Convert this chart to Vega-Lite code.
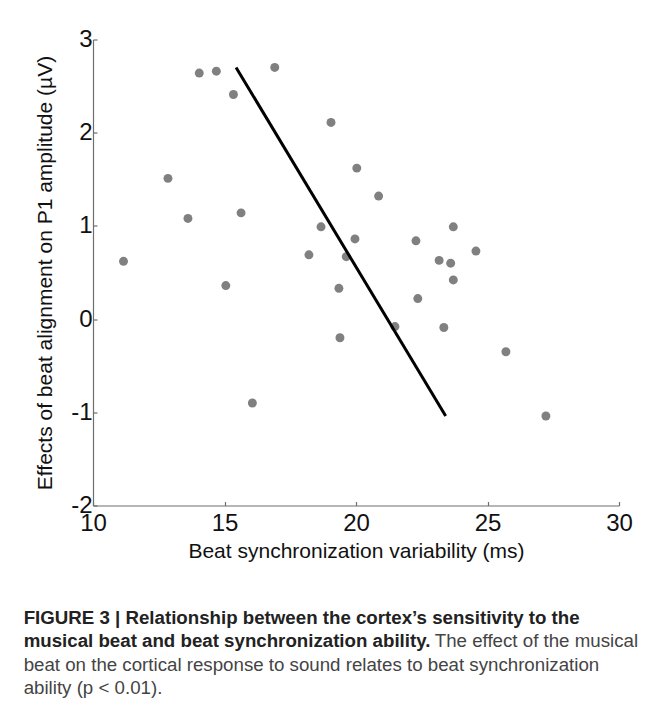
{
  "$schema": "https://vega.github.io/schema/vega-lite/v6.json",
  "width": 526,
  "height": 466,
  "autosize": {"type": "none"},
  "padding": {"left": 93, "top": 39.5, "right": 36, "bottom": 208.5},
  "background": "white",
  "config": {
    "view": {"stroke": null},
    "axis": {
      "grid": false,
      "domainColor": "#6e6e6e",
      "domainWidth": 1.2,
      "tickColor": "#6e6e6e",
      "tickWidth": 1.2,
      "tickSize": -4,
      "labelFont": "Liberation Sans",
      "labelFontSize": 24,
      "labelColor": "#111111",
      "titleFont": "Liberation Sans",
      "titleFontSize": 21,
      "titleFontWeight": "normal",
      "titleColor": "#111111"
    }
  },
  "datasets": {
    "points": [
      {"variability": 11.16, "effect": 0.62},
      {"variability": 12.85, "effect": 1.51},
      {"variability": 13.61, "effect": 1.08},
      {"variability": 14.04, "effect": 2.64},
      {"variability": 14.69, "effect": 2.66},
      {"variability": 15.34, "effect": 2.41},
      {"variability": 15.05, "effect": 0.36},
      {"variability": 15.63, "effect": 1.14},
      {"variability": 16.06, "effect": -0.90},
      {"variability": 16.91, "effect": 2.70},
      {"variability": 18.21, "effect": 0.69},
      {"variability": 18.67, "effect": 0.99},
      {"variability": 19.05, "effect": 2.11},
      {"variability": 20.03, "effect": 1.62},
      {"variability": 20.86, "effect": 1.32},
      {"variability": 19.96, "effect": 0.86},
      {"variability": 19.63, "effect": 0.67},
      {"variability": 22.28, "effect": 0.84},
      {"variability": 23.70, "effect": 0.99},
      {"variability": 24.56, "effect": 0.73},
      {"variability": 23.16, "effect": 0.63},
      {"variability": 23.60, "effect": 0.60},
      {"variability": 23.70, "effect": 0.42},
      {"variability": 19.35, "effect": 0.33},
      {"variability": 22.35, "effect": 0.22},
      {"variability": 21.48, "effect": -0.08},
      {"variability": 23.34, "effect": -0.09},
      {"variability": 19.39, "effect": -0.20},
      {"variability": 25.70, "effect": -0.35},
      {"variability": 27.22, "effect": -1.04}
    ],
    "fit": [
      {"variability": 15.44, "effect": 2.70},
      {"variability": 23.41, "effect": -1.04}
    ]
  },
  "layer": [
    {
      "data": {"name": "points"},
      "mark": {"type": "circle", "size": 80, "color": "#808080", "opacity": 1},
      "encoding": {
        "x": {
          "field": "variability",
          "type": "quantitative",
          "scale": {"domain": [10, 30], "nice": false, "zero": false},
          "axis": {
            "title": "Beat synchronization variability (ms)",
            "values": [10, 15, 20, 25, 30],
            "format": "d",
            "labelPadding": 10,
            "titlePadding": 5,
            "labelFlush": false
          }
        },
        "y": {
          "field": "effect",
          "type": "quantitative",
          "scale": {"domain": [-2, 3], "nice": false, "zero": false},
          "axis": {
            "title": "Effects of beat alignment on P1 amplitude (µV)",
            "values": [-2, -1, 0, 1, 2, 3],
            "format": "d",
            "labelExpr": "replace(datum.label, '−', '-')",
            "labelPadding": 5,
            "titlePadding": 15,
            "labelFlush": false
          }
        }
      }
    },
    {
      "data": {"name": "fit"},
      "mark": {"type": "line", "color": "#000000", "strokeWidth": 3},
      "encoding": {
        "x": {"field": "variability", "type": "quantitative"},
        "y": {"field": "effect", "type": "quantitative"}
      }
    }
  ],
  "title": {
    "text": ["FIGURE 3 | Relationship between the cortex’s sensitivity to the", "musical beat and beat synchronization ability."],
    "subtitle": ["\u2060\u2002\u2002\u2002\u2002\u2002\u2002\u2002\u2002\u2002\u2002\u2002\u2002\u2002\u2002\u2002\u2002\u2002\u2002\u2002\u2002\u2002\u2002\u2002\u2002\u2002\u2002\u2002\u2002\u2002\u2002\u2002\u2002\u2002\u2002\u2002\u2002\u2002\u2002\u2002\u2002\u2002\u2002\u2002\u2002The effect of the musical", "beat on the cortical response to sound relates to beat synchronization", "ability (p < 0.01)."],
    "orient": "bottom",
    "anchor": "start",
    "frame": "bounds",
    "offset": 47,
    "dx": -11,
    "font": "Liberation Sans",
    "fontSize": 18.7,
    "fontWeight": "bold",
    "color": "#222222",
    "lineHeight": 23.5,
    "subtitleFont": "Liberation Sans",
    "subtitleFontSize": 18.7,
    "subtitleFontWeight": "normal",
    "subtitleColor": "#444444",
    "subtitleLineHeight": 23.5,
    "subtitlePadding": -18.7
  }
}
